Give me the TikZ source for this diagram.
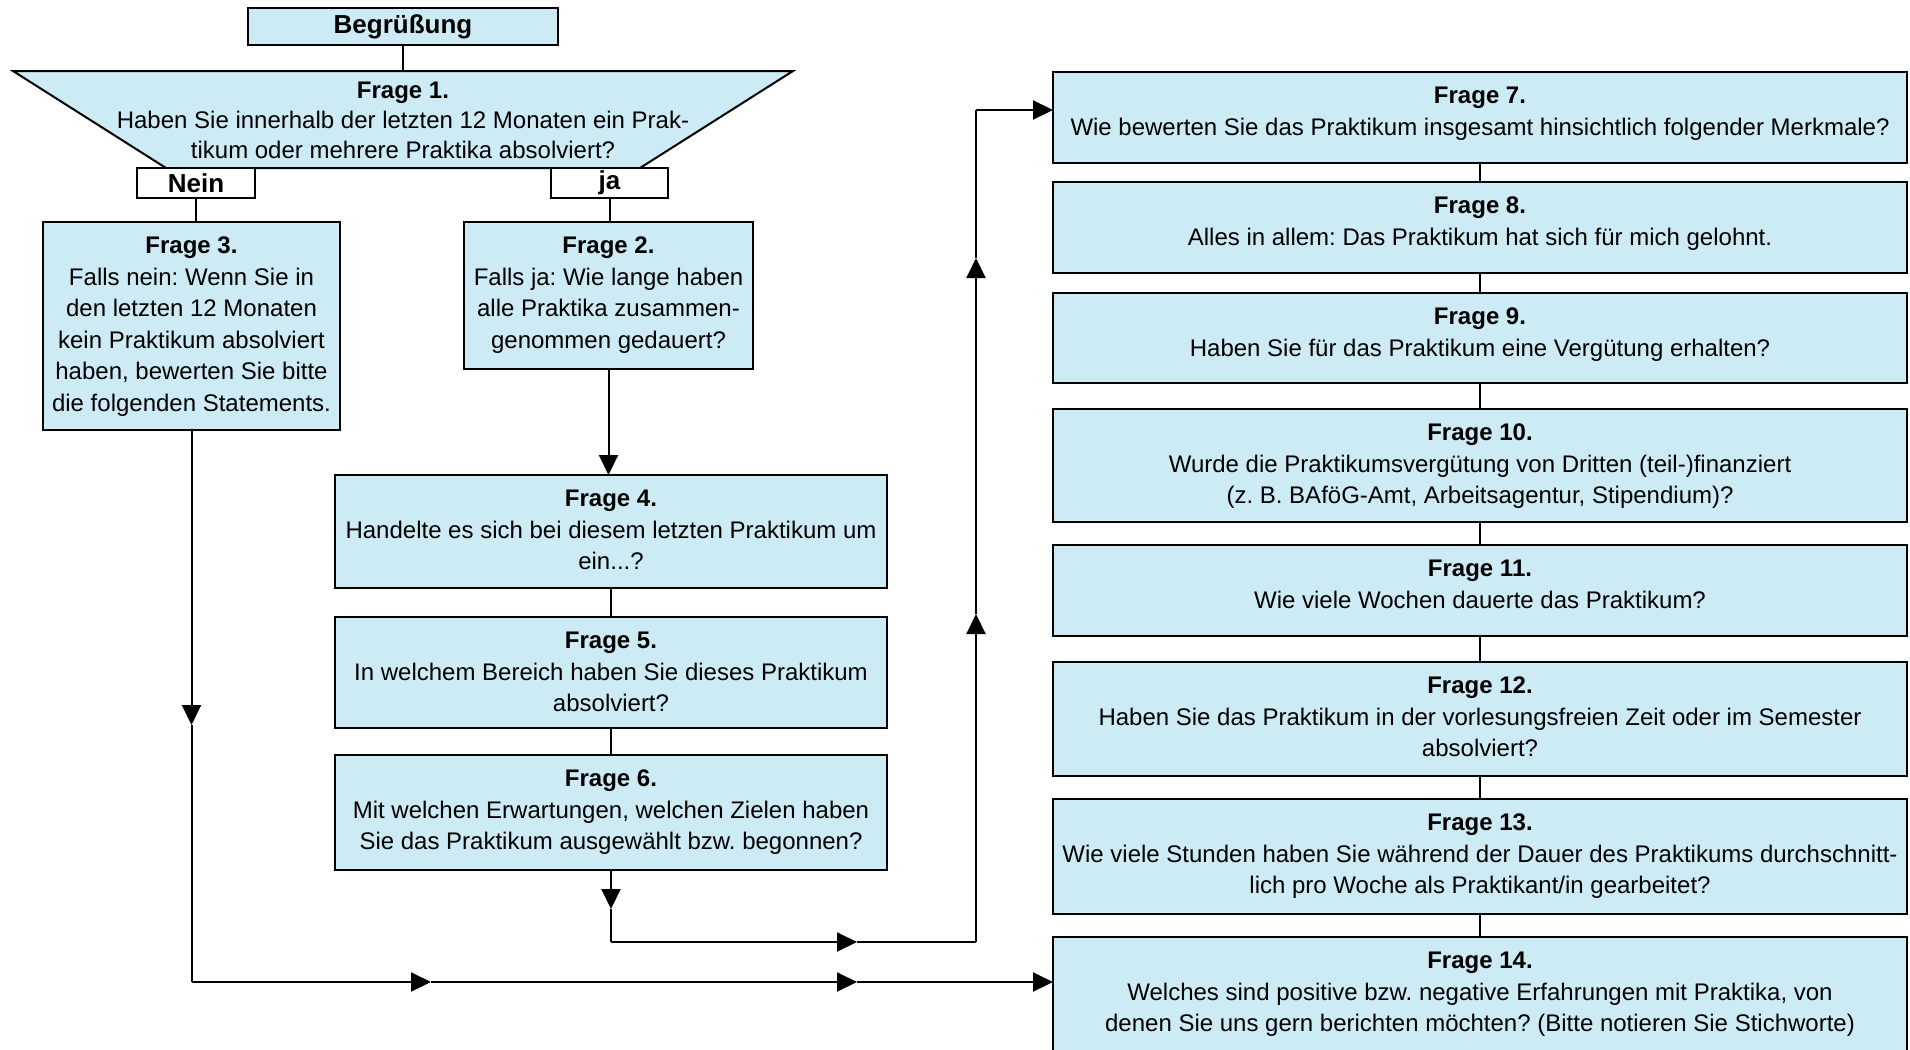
\documentclass[tikz,border=0pt]{standalone}
\usepackage{fontspec}
\setmainfont{Liberation Sans}
\usetikzlibrary{arrows.meta}
\frenchspacing
\definecolor{qfill}{RGB}{205,235,245}
\tikzset{
  qbox/.style={draw=black, line width=1pt, fill=qfill, inner sep=0pt, outer sep=0pt},
  wbox/.style={draw=black, line width=1pt, fill=white, inner sep=0pt, outer sep=0pt,
    font=\bfseries\fontsize{13}{15}\selectfont},
  trap/.style={draw=black, line width=1pt, fill=qfill},
  conn/.style={line width=1pt, draw=black},
  arr/.style={conn, -{Triangle[length=10pt,width=9.5pt]}},
}
\newcommand\qtext[3]{\parbox[c][#2][t]{#1}{\centering\fontsize{12}{15.75}\selectfont\frenchspacing\rule{0pt}{15.8pt}#3}}
\begin{document}
\begin{tikzpicture}[x=0.5pt,y=-0.5pt]
\clip (0,0) rectangle (1910,1049);
\fill[white] (0,0) rectangle (1910,1049);

% top
\node[qbox, minimum width=155pt, minimum height=18.5pt, font=\bfseries\fontsize{13}{15}\selectfont] (beg) at (403,26.5) {Begrüßung};

\coordinate (t1) at (13,71);
\coordinate (t2) at (793,71);
\coordinate (t3) at (640,168);
\coordinate (t4) at (166,168);
\coordinate (f1top) at (403,71);
\draw[trap] (t1) -- (t2) -- (t3) -- (t4) -- cycle;
\node[anchor=north, inner sep=0pt] (f1) at (f1top) {\parbox[t]{320pt}{\centering\fontsize{12}{15}\selectfont\frenchspacing\rule{0pt}{13.3pt}\textbf{Frage 1.}\\Haben Sie innerhalb der letzten 12 Monaten ein Prak-\\tikum oder mehrere Praktika absolviert?}};

\node[wbox, minimum width=59pt, minimum height=15pt] (nein) at (196,183) {Nein};
\node[wbox, minimum width=58.5pt, minimum height=15pt] (ja) at (609.5,183) {ja};

% left column
\node[qbox] (f3) at (191.5,326) {\qtext{148.5pt}{104pt}{\textbf{Frage 3.}\\Falls nein: Wenn Sie in\\den letzten 12 Monaten\\kein Praktikum absolviert\\haben, bewerten Sie bitte\\die folgenden Statements.}};
\node[qbox] (f2) at (608.5,295.5) {\qtext{144.5pt}{73.5pt}{\textbf{Frage 2.}\\Falls ja: Wie lange haben\\alle Praktika zusammen-\\genommen gedauert?}};
\node[qbox] (f4) at (611,531.5) {\qtext{276pt}{56.5pt}{\textbf{Frage 4.}\\Handelte es sich bei diesem letzten Praktikum um\\ein...?}};
\node[qbox] (f5) at (611,672.5) {\qtext{276pt}{55.5pt}{\textbf{Frage 5.}\\In welchem Bereich haben Sie dieses Praktikum\\absolviert?}};
\node[qbox] (f6) at (611,812.5) {\qtext{276pt}{57.5pt}{\textbf{Frage 6.}\\Mit welchen Erwartungen, welchen Zielen haben\\Sie das Praktikum ausgewählt bzw. begonnen?}};

% right column
\node[qbox] (f7) at (1480,117.5) {\qtext{427pt}{45.5pt}{\textbf{Frage 7.}\\Wie bewerten Sie das Praktikum insgesamt hinsichtlich folgender Merkmale?}};
\node[qbox] (f8) at (1480,227.5) {\qtext{427pt}{45.5pt}{\textbf{Frage 8.}\\Alles in allem: Das Praktikum hat sich für mich gelohnt.}};
\node[qbox] (f9) at (1480,338) {\qtext{427pt}{45pt}{\textbf{Frage 9.}\\Haben Sie für das Praktikum eine Vergütung erhalten?}};
\node[qbox] (f10) at (1480,465.5) {\qtext{427pt}{56.5pt}{\textbf{Frage 10.}\\Wurde die Praktikumsvergütung von Dritten (teil-)finanziert\\(z.~B. BAföG-Amt, Arbeitsagentur, Stipendium)?}};
\node[qbox] (f11) at (1480,590.5) {\qtext{427pt}{45.5pt}{\textbf{Frage 11.}\\Wie viele Wochen dauerte das Praktikum?}};
\node[qbox] (f12) at (1480,719) {\qtext{427pt}{57pt}{\textbf{Frage 12.}\\Haben Sie das Praktikum in der vorlesungsfreien Zeit oder im Semester\\absolviert?}};
\node[qbox] (f13) at (1480,856.5) {\qtext{427pt}{57.5pt}{\textbf{Frage 13.}\\Wie viele Stunden haben Sie während der Dauer des Praktikums durchschnitt-\\lich pro Woche als Praktikant/in gearbeitet?}};
\node[qbox] (f14) at (1480,998.5) {\qtext{427pt}{61.5pt}{\textbf{Frage 14.}\\Welches sind positive bzw. negative Erfahrungen mit Praktika, von\\denen Sie uns gern berichten möchten? (Bitte notieren Sie Stichworte)}};

% simple connectors
\draw[conn] (beg.south) -- (f1top);
\draw[conn] (nein.south) -- (nein.south |- f3.north);
\draw[conn] (ja.south) -- (ja.south |- f2.north);
\draw[arr] (f2.south) -- (f2.south |- f4.north);
\draw[conn] (f4.south) -- (f5.north);
\draw[conn] (f5.south) -- (f6.north);
\draw[conn] (f7.south) -- (f8.north);
\draw[conn] (f8.south) -- (f9.north);
\draw[conn] (f9.south) -- (f10.north);
\draw[conn] (f10.south) -- (f11.north);
\draw[conn] (f11.south) -- (f12.north);
\draw[conn] (f12.south) -- (f13.north);
\draw[conn] (f13.south) -- (f14.north);

% path from Frage 3 to Frage 14
\coordinate (a3) at (191.5,725);
\coordinate (bl) at (191.5,982);
\coordinate (b1) at (431,982);
\coordinate (b2) at (857,982);
\draw[arr] (f3.south) -- (a3);
\draw[conn] (a3) -- (bl);
\draw[arr] (bl) -- (b1);
\draw[arr] (b1) -- (b2);
\draw[arr] (b2) -- (f14.west |- bl);

% path from Frage 6 to Frage 7
\coordinate (a6) at (611,909);
\coordinate (c6) at (611,942);
\coordinate (h6) at (857,942);
\coordinate (cr) at (976,942);
\coordinate (u1) at (976,614);
\coordinate (u2) at (976,258);
\coordinate (ct) at (976,110);
\draw[arr] (f6.south) -- (a6);
\draw[conn] (a6) -- (c6);
\draw[arr] (c6) -- (h6);
\draw[conn] (h6) -- (cr);
\draw[arr] (cr) -- (u1);
\draw[arr] (u1) -- (u2);
\draw[conn] (u2) -- (ct);
\draw[arr] (ct) -- (f7.west |- ct);
\end{tikzpicture}
\end{document}
